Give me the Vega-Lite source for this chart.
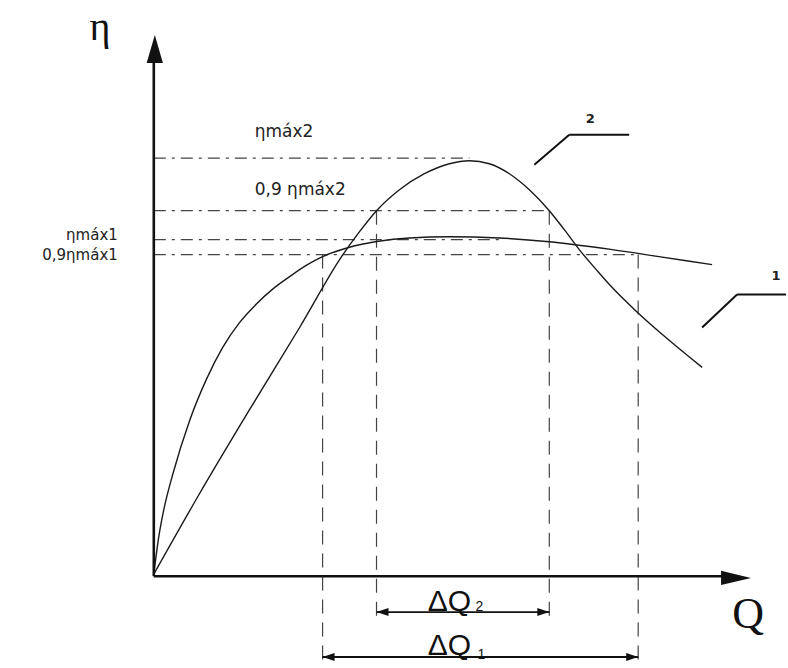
{
  "$schema": "https://vega.github.io/schema/vega-lite/v6.json",
  "width": 788,
  "height": 668,
  "padding": 0,
  "autosize": {"type": "fit", "contains": "padding"},
  "background": "white",
  "config": {"view": {"stroke": null}},
  "datasets": {
    "curves": [
      {"curve": "1", "Q": 0, "eta": 0},
      {"curve": "1", "Q": 0.1, "eta": 9},
      {"curve": "1", "Q": 0.2, "eta": 15.5},
      {"curve": "1", "Q": 0.38, "eta": 24},
      {"curve": "1", "Q": 0.72, "eta": 37},
      {"curve": "1", "Q": 1.06, "eta": 47},
      {"curve": "1", "Q": 1.38, "eta": 54.5},
      {"curve": "1", "Q": 1.72, "eta": 60.5},
      {"curve": "1", "Q": 2.06, "eta": 65},
      {"curve": "1", "Q": 2.38, "eta": 68.5},
      {"curve": "1", "Q": 2.72, "eta": 71.5},
      {"curve": "1", "Q": 3.05, "eta": 74.2},
      {"curve": "1", "Q": 3.38, "eta": 76.3},
      {"curve": "1", "Q": 3.9, "eta": 78.5},
      {"curve": "1", "Q": 4.5, "eta": 80},
      {"curve": "1", "Q": 5.12, "eta": 80.8},
      {"curve": "1", "Q": 5.92, "eta": 81.1},
      {"curve": "1", "Q": 6.92, "eta": 80.8},
      {"curve": "1", "Q": 7.92, "eta": 79.9},
      {"curve": "1", "Q": 9.18, "eta": 78},
      {"curve": "1", "Q": 10.18, "eta": 76.2},
      {"curve": "1", "Q": 11.18, "eta": 74.4},
      {"curve": "2", "Q": 0, "eta": 0},
      {"curve": "2", "Q": 0.92, "eta": 19.44},
      {"curve": "2", "Q": 1.92, "eta": 39.6},
      {"curve": "2", "Q": 2.92, "eta": 59.28},
      {"curve": "2", "Q": 3.76, "eta": 76.32},
      {"curve": "2", "Q": 4.12, "eta": 82.32},
      {"curve": "2", "Q": 4.46, "eta": 87.36},
      {"curve": "2", "Q": 4.92, "eta": 92.4},
      {"curve": "2", "Q": 5.42, "eta": 96.24},
      {"curve": "2", "Q": 5.92, "eta": 98.64},
      {"curve": "2", "Q": 6.32, "eta": 99.36},
      {"curve": "2", "Q": 6.72, "eta": 98.64},
      {"curve": "2", "Q": 7.12, "eta": 96.24},
      {"curve": "2", "Q": 7.52, "eta": 92.4},
      {"curve": "2", "Q": 7.92, "eta": 87.36},
      {"curve": "2", "Q": 8.22, "eta": 82.8},
      {"curve": "2", "Q": 8.52, "eta": 78},
      {"curve": "2", "Q": 8.86, "eta": 73.2},
      {"curve": "2", "Q": 9.18, "eta": 68.88},
      {"curve": "2", "Q": 9.66, "eta": 63.2},
      {"curve": "2", "Q": 10.32, "eta": 56.2},
      {"curve": "2", "Q": 10.98, "eta": 49.7}
    ],
    "hlines": [
      {"name": "ηmáx2", "eta": 100, "Q0": 0, "Q1": 6.32},
      {"name": "0,9 ηmáx2", "eta": 87.36, "Q0": 0, "Q1": 7.92},
      {"name": "ηmáx1", "eta": 80.4, "Q0": 0, "Q1": 7.0},
      {"name": "0,9 ηmáx1", "eta": 76.8, "Q0": 0, "Q1": 9.7}
    ],
    "vlines": [
      {"Q": 3.38, "eta0": 76.8, "eta1": -22.3},
      {"Q": 4.46, "eta0": 87.36, "eta1": -11.5},
      {"Q": 7.92, "eta0": 87.36, "eta1": -11.5},
      {"Q": 9.7, "eta0": 76.8, "eta1": -22.3}
    ],
    "axes": [
      {"Q0": 0, "Q1": 0, "eta0": -0.5, "eta1": 126},
      {"Q0": 0, "Q1": 11.5, "eta0": -0.5, "eta1": -0.5}
    ],
    "leaders": [
      {"Q0": 7.62, "Q1": 8.32, "eta0": 98.4, "eta1": 105.6},
      {"Q0": 8.32, "Q1": 9.52, "eta0": 105.6, "eta1": 105.6},
      {"Q0": 10.98, "Q1": 11.68, "eta0": 59.28, "eta1": 67.2},
      {"Q0": 11.68, "Q1": 12.66, "eta0": 67.2, "eta1": 67.2}
    ],
    "dims": [
      {"name": "ΔQ2", "Q0": 4.46, "Q1": 7.92, "eta": -9.12},
      {"name": "ΔQ1", "Q0": 3.38, "Q1": 9.7, "eta": -19.92}
    ],
    "dimRight": [
      {"Q": 7.92, "eta": -9.12},
      {"Q": 9.7, "eta": -19.92}
    ],
    "dimLeft": [
      {"Q": 4.46, "eta": -9.12},
      {"Q": 3.38, "eta": -19.92}
    ],
    "upTip": [{"Q": 0.02, "eta": 129.6}],
    "rightTip": [{"Q": 11.96, "eta": -0.9}],
    "etaTitle": [{"Q": -1.08, "eta": 128.4, "text": "η"}],
    "qTitle": [{"Q": 11.9, "eta": -12.96, "text": "Q"}],
    "refLeft": [
      {"Q": 2.02, "eta": 105.1, "text": "ηmáx2"},
      {"Q": 2.02, "eta": 91.2, "text": "0,9 ηmáx2"}
    ],
    "refRight": [
      {"Q": -0.72, "eta": 80.4, "text": "ηmáx1"},
      {"Q": -0.72, "eta": 75.6, "text": "0,9ηmáx1"}
    ],
    "deltaMain": [
      {"Q": 5.92, "eta": -8.88, "text": "ΔQ"},
      {"Q": 5.92, "eta": -19.44, "text": "ΔQ"}
    ],
    "deltaSub": [
      {"Q": 6.44, "eta": -8.88, "text": "2"},
      {"Q": 6.48, "eta": -20.4, "text": "1"}
    ],
    "curveNames": [
      {"Q": 8.74, "eta": 108.5, "text": "2"},
      {"Q": 12.46, "eta": 70.8, "text": "1"}
    ]
  },
  "layer": [
    {
      "data": {"name": "hlines"},
      "mark": {"type": "rule", "stroke": "#444", "strokeWidth": 1.2, "strokeDash": [12, 6, 3, 6]},
      "encoding": {
        "x": {"field": "Q0", "type": "quantitative", "scale": {"domain": [-3.08, 12.68], "nice": false, "zero": false}, "axis": null},
        "x2": {"field": "Q1"},
        "y": {"field": "eta", "type": "quantitative", "scale": {"domain": [-22.32, 138], "nice": false, "zero": false}, "axis": null}
      }
    },
    {
      "data": {"name": "vlines"},
      "mark": {"type": "rule", "stroke": "#444", "strokeWidth": 1.2, "strokeDash": [14, 9]},
      "encoding": {
        "x": {"field": "Q", "type": "quantitative"},
        "y": {"field": "eta0", "type": "quantitative"},
        "y2": {"field": "eta1"}
      }
    },
    {
      "data": {"name": "curves"},
      "mark": {"type": "line", "stroke": "#1a1a1a", "strokeWidth": 1.4, "interpolate": "monotone"},
      "encoding": {
        "x": {"field": "Q", "type": "quantitative"},
        "y": {"field": "eta", "type": "quantitative"},
        "detail": {"field": "curve"}
      }
    },
    {
      "data": {"name": "axes"},
      "mark": {"type": "rule", "stroke": "#111", "strokeWidth": 2.6},
      "encoding": {
        "x": {"field": "Q0", "type": "quantitative"},
        "x2": {"field": "Q1"},
        "y": {"field": "eta0", "type": "quantitative"},
        "y2": {"field": "eta1"}
      }
    },
    {
      "data": {"name": "leaders"},
      "mark": {"type": "rule", "stroke": "#111", "strokeWidth": 2},
      "encoding": {
        "x": {"field": "Q0", "type": "quantitative"},
        "x2": {"field": "Q1"},
        "y": {"field": "eta0", "type": "quantitative"},
        "y2": {"field": "eta1"}
      }
    },
    {
      "data": {"name": "dims"},
      "mark": {"type": "rule", "stroke": "#111", "strokeWidth": 1.8},
      "encoding": {
        "x": {"field": "Q0", "type": "quantitative"},
        "x2": {"field": "Q1"},
        "y": {"field": "eta", "type": "quantitative"}
      }
    },
    {
      "data": {"name": "dimRight"},
      "mark": {"type": "point", "shape": "M0,0L-1,0.33L-1,-0.33Z", "size": 576, "filled": true, "color": "#111", "opacity": 1, "strokeWidth": 0},
      "encoding": {
        "x": {"field": "Q", "type": "quantitative"},
        "y": {"field": "eta", "type": "quantitative"}
      }
    },
    {
      "data": {"name": "dimLeft"},
      "mark": {"type": "point", "shape": "M0,0L1,0.33L1,-0.33Z", "size": 576, "filled": true, "color": "#111", "opacity": 1, "strokeWidth": 0},
      "encoding": {
        "x": {"field": "Q", "type": "quantitative"},
        "y": {"field": "eta", "type": "quantitative"}
      }
    },
    {
      "data": {"name": "upTip"},
      "mark": {"type": "point", "shape": "M0,0L0.29,1L-0.29,1Z", "size": 3136, "filled": true, "color": "#111", "opacity": 1, "strokeWidth": 0},
      "encoding": {
        "x": {"field": "Q", "type": "quantitative"},
        "y": {"field": "eta", "type": "quantitative"}
      }
    },
    {
      "data": {"name": "rightTip"},
      "mark": {"type": "point", "shape": "M0,0L-1,0.24L-1,-0.24Z", "size": 3600, "filled": true, "color": "#111", "opacity": 1, "strokeWidth": 0},
      "encoding": {
        "x": {"field": "Q", "type": "quantitative"},
        "y": {"field": "eta", "type": "quantitative"}
      }
    },
    {
      "data": {"name": "etaTitle"},
      "mark": {"type": "text", "font": "Liberation Serif", "fontSize": 40, "align": "center", "baseline": "alphabetic", "color": "#111"},
      "encoding": {
        "x": {"field": "Q", "type": "quantitative"},
        "y": {"field": "eta", "type": "quantitative"},
        "text": {"field": "text"}
      }
    },
    {
      "data": {"name": "qTitle"},
      "mark": {"type": "text", "font": "Liberation Serif", "fontSize": 44, "align": "center", "baseline": "alphabetic", "color": "#111"},
      "encoding": {
        "x": {"field": "Q", "type": "quantitative"},
        "y": {"field": "eta", "type": "quantitative"},
        "text": {"field": "text"}
      }
    },
    {
      "data": {"name": "refLeft"},
      "mark": {"type": "text", "font": "DejaVu Sans", "fontSize": 17, "align": "left", "baseline": "alphabetic", "color": "#222"},
      "encoding": {
        "x": {"field": "Q", "type": "quantitative"},
        "y": {"field": "eta", "type": "quantitative"},
        "text": {"field": "text"}
      }
    },
    {
      "data": {"name": "refRight"},
      "mark": {"type": "text", "font": "DejaVu Sans", "fontSize": 15, "align": "right", "baseline": "alphabetic", "color": "#222"},
      "encoding": {
        "x": {"field": "Q", "type": "quantitative"},
        "y": {"field": "eta", "type": "quantitative"},
        "text": {"field": "text"}
      }
    },
    {
      "data": {"name": "deltaMain"},
      "mark": {"type": "text", "font": "Liberation Sans", "fontSize": 30, "align": "center", "baseline": "alphabetic", "color": "#111"},
      "encoding": {
        "x": {"field": "Q", "type": "quantitative"},
        "y": {"field": "eta", "type": "quantitative"},
        "text": {"field": "text"}
      }
    },
    {
      "data": {"name": "deltaSub"},
      "mark": {"type": "text", "font": "Liberation Sans", "fontSize": 14, "align": "left", "baseline": "alphabetic", "color": "#111"},
      "encoding": {
        "x": {"field": "Q", "type": "quantitative"},
        "y": {"field": "eta", "type": "quantitative"},
        "text": {"field": "text"}
      }
    },
    {
      "data": {"name": "curveNames"},
      "mark": {"type": "text", "font": "DejaVu Sans", "fontSize": 13, "fontWeight": "bold", "align": "center", "baseline": "alphabetic", "color": "#222"},
      "encoding": {
        "x": {"field": "Q", "type": "quantitative"},
        "y": {"field": "eta", "type": "quantitative"},
        "text": {"field": "text"}
      }
    }
  ]
}
